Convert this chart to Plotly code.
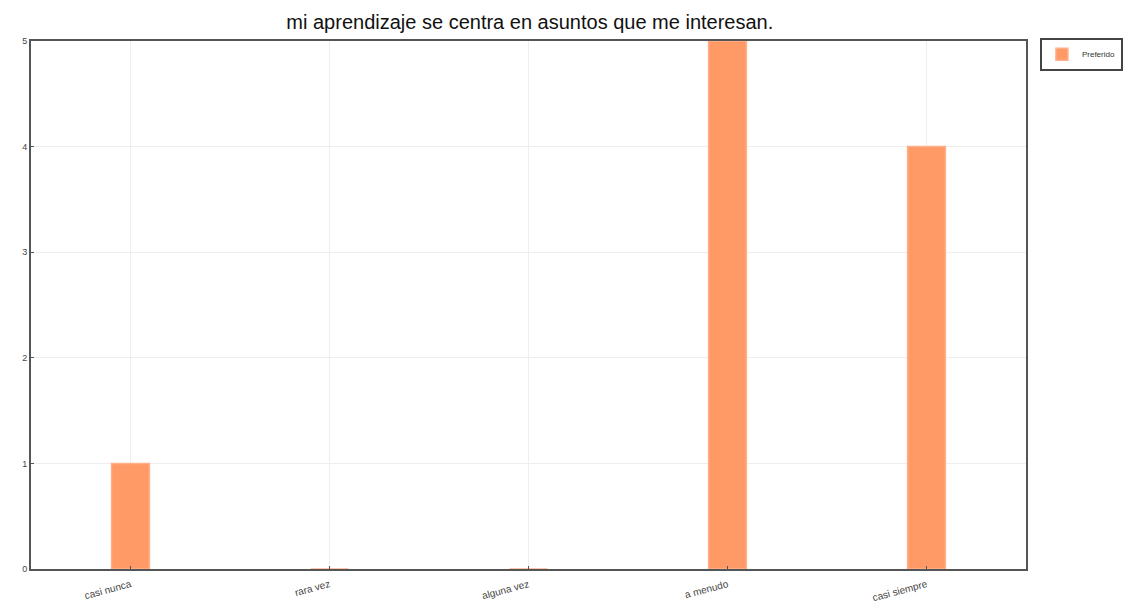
import plotly.graph_objects as go

categories = ["casi nunca", "rara vez", "alguna vez", "a menudo", "casi siempre"]
values = [1, 0, 0, 5, 4]
series_name = "Preferido"
y_ticks = [0, 1, 2, 3, 4, 5]

fig = go.Figure()
fig.add_trace(go.Bar(
    x=categories, y=values, name=series_name,
    marker=dict(color="#FF9966", line=dict(color="#FFB08A", width=1.5)),
    width=0.19, showlegend=True,
))

fig.update_layout(
    width=1115, height=599,
    margin=dict(l=23, r=97, t=33, b=38, autoexpand=False),
    paper_bgcolor="white", plot_bgcolor="white",
    title=dict(text="mi aprendizaje se centra en asuntos que me interesan.",
               x=0.468, xanchor="center", y=0.977, yanchor="middle",
               font=dict(family="Liberation Sans, Arial", size=20, color="#111")),
    font=dict(family="Liberation Sans, Arial", size=9, color="#444"),
    showlegend=True,
    legend=dict(x=1.014, y=1.006, xanchor="left", yanchor="top",
                bordercolor="#444", borderwidth=2, bgcolor="white",
                font=dict(size=8, color="#333"),
                itemwidth=30, tracegroupgap=0),
    bargap=0.8,
)
fig.update_xaxes(showline=True, linecolor="#555", linewidth=2, mirror=True,
                 showgrid=True, gridcolor="#EEEEEE", tickangle=-15,
                 ticks="inside", ticklen=3, tickcolor="#555",
                 ticklabelstandoff=4, automargin=False,
                 tickfont=dict(size=10, color="#444"))
fig.update_yaxes(range=[0, 5], tickvals=y_ticks, showline=True, linecolor="#555",
                 linewidth=2, mirror=True, showgrid=True, gridcolor="#EEEEEE",
                 ticks="inside", ticklen=3, tickcolor="#555", zeroline=False,
                 automargin=False,
                 tickfont=dict(size=9, color="#444"))

fig.write_html("out.html")
